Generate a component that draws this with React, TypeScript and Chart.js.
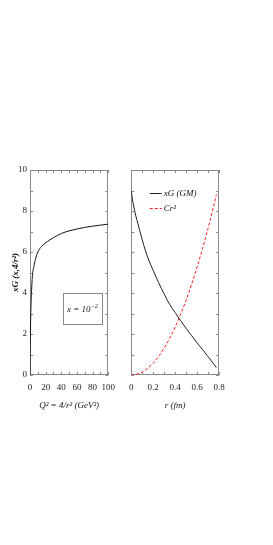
import React, { useEffect, useRef } from "react";
import { Chart, registerables } from "chart.js";
Chart.register(...registerables);

// ---- data ----
const q2Values = [0, 0.1, 0.3, 0.5, 1, 1.5, 2, 3, 5, 7, 10, 15, 20, 25, 30, 40, 50, 60, 70, 80, 90, 100];
const xgQ2Values = [0, 0.7, 1.4, 2.0, 3.0, 3.7, 4.1, 4.8, 5.3, 5.65, 6.0, 6.28, 6.45, 6.58, 6.7, 6.9, 7.03, 7.12, 7.2, 7.26, 7.31, 7.36];

const rGM = [0, 0.01, 0.02, 0.04, 0.06, 0.08, 0.1, 0.13, 0.16, 0.2, 0.25, 0.3, 0.35, 0.4, 0.45, 0.5, 0.55, 0.6, 0.65, 0.7, 0.75, 0.776];
const xgGM = [9.0, 8.6, 8.3, 7.8, 7.4, 7.0, 6.6, 6.05, 5.6, 5.1, 4.5, 3.95, 3.45, 3.05, 2.65, 2.28, 1.92, 1.57, 1.24, 0.9, 0.55, 0.36];

const rC = [0, 0.05, 0.1, 0.15, 0.2, 0.25, 0.3, 0.35, 0.4, 0.45, 0.5, 0.55, 0.6, 0.65, 0.7, 0.75, 0.776];
const cr2Values = [0, 0.04, 0.15, 0.33, 0.58, 0.91, 1.31, 1.79, 2.34, 2.96, 3.65, 4.42, 5.26, 6.17, 7.15, 8.21, 8.8];

const q2TickLabels = [0, 20, 40, 60, 80, 100];
const q2TickMarks = [0, 10, 20, 30, 40, 50, 60, 70, 80, 90, 100];
const rTickLabels = [0, 0.2, 0.4, 0.6, 0.8];
const rTickMarks = [0, 0.1, 0.2, 0.3, 0.4, 0.5, 0.6, 0.7, 0.8];
const yTickLabels = [0, 2, 4, 6, 8, 10];
const yTickMarks = [0, 1, 2, 3, 4, 5, 6, 7, 8, 9, 10];

const SERIF = '"Liberation Serif", "Times New Roman", serif';
const BOX = "#8a8a8a";

const frameTicks = {
  id: "frameTicks",
  beforeDatasetsDraw(chart: any, _a: any, opts: any) {
    const { ctx, chartArea } = chart;
    const { left, right, top, bottom } = chartArea;
    const xs = chart.scales.x;
    const ys = chart.scales.y;
    ctx.save();
    ctx.strokeStyle = BOX;
    ctx.lineWidth = 1;
    ctx.strokeRect(Math.round(left) + 0.5, Math.round(top) + 0.5, Math.round(right - left) - 1, Math.round(bottom - top) - 1);
    ctx.beginPath();
    (opts.xTicks || []).forEach((v: number) => {
      const px = Math.round(xs.getPixelForValue(v)) + 0.5;
      ctx.moveTo(px, bottom);
      ctx.lineTo(px, bottom - 3);
      ctx.moveTo(px, top);
      ctx.lineTo(px, top + 3);
    });
    (opts.yTicks || []).forEach((v: number) => {
      const py = Math.round(ys.getPixelForValue(v)) + 0.5;
      ctx.moveTo(left, py);
      ctx.lineTo(left + 3, py);
      ctx.moveTo(right, py);
      ctx.lineTo(right - 3, py);
    });
    ctx.stroke();
    ctx.restore();
  },
};

const textBox = {
  id: "textBox",
  afterDraw(chart: any, _a: any, opts: any) {
    if (!opts || !opts.text) return;
    const { ctx, chartArea } = chart;
    const x0 = chartArea.left + 33;
    const y0 = chartArea.top + 123;
    ctx.save();
    ctx.strokeStyle = BOX;
    ctx.lineWidth = 1;
    ctx.strokeRect(Math.round(x0) + 0.5, Math.round(y0) + 0.5, 39, 31);
    ctx.fillStyle = "#111";
    ctx.font = `italic 9px ${SERIF}`;
    ctx.textBaseline = "middle";
    ctx.textAlign = "left";
    const tx = x0 + 4;
    const ty = y0 + 17;
    ctx.fillText(opts.text, tx, ty);
    const w = ctx.measureText(opts.text).width;
    ctx.font = `italic 6px ${SERIF}`;
    ctx.fillText(opts.sup, tx + w + 0.5, ty - 4);
    ctx.restore();
  },
};

const lineLegend = {
  id: "lineLegend",
  afterDraw(chart: any, _a: any, opts: any) {
    if (!opts || !opts.show) return;
    const { ctx, chartArea } = chart;
    const x0 = chartArea.left + 18.5;
    const rows = [chartArea.top + 22.5, chartArea.top + 37.5];
    ctx.save();
    chart.data.datasets.forEach((ds: any, i: number) => {
      const y = Math.round(rows[i]) + 0.5;
      ctx.strokeStyle = ds.borderColor;
      ctx.lineWidth = 1;
      ctx.setLineDash(ds.borderDash || []);
      ctx.beginPath();
      ctx.moveTo(x0, y);
      ctx.lineTo(x0 + 12, y);
      ctx.stroke();
      ctx.setLineDash([]);
      ctx.fillStyle = "#111";
      ctx.font = `italic 9px ${SERIF}`;
      ctx.textBaseline = "middle";
      ctx.textAlign = "left";
      ctx.fillText(ds.label, x0 + 14, y);
    });
    ctx.restore();
  },
};

const tickFont = { family: SERIF, size: 9 };

function fixedTicks(values: number[]) {
  return (scale: any) => {
    scale.ticks = values.map((v) => ({ value: v }));
  };
}

export default function App() {
  const leftRef = useRef<HTMLCanvasElement>(null);
  const rightRef = useRef<HTMLCanvasElement>(null);

  useEffect(() => {
    const left = new Chart(leftRef.current as HTMLCanvasElement, {
      type: "scatter",
      data: {
        datasets: [
          {
            label: "xG",
            data: q2Values.map((x, i) => ({ x, y: xgQ2Values[i] })),
            showLine: true,
            borderColor: "#111",
            borderWidth: 1,
            pointRadius: 0,
            cubicInterpolationMode: "monotone",
          } as any,
        ],
      },
      options: {
        animation: false,
        responsive: false,
        layout: { padding: { top: 170, right: 2.5, bottom: 125, left: 0 } },
        plugins: {
          legend: { display: false },
          tooltip: { enabled: false },
          frameTicks: { xTicks: q2TickMarks, yTicks: yTickMarks },
          textBox: { text: "x = 10", sup: "\u22122" },
        } as any,
        scales: {
          x: {
            type: "linear",
            min: 0,
            max: 100,
            afterBuildTicks: fixedTicks(q2TickLabels),
            afterFit: (s: any) => {
              s.height = 45;
            },
            grid: { display: false, drawTicks: false },
            border: { display: false },
            ticks: { font: tickFont, color: "#222", padding: 7, maxRotation: 0, autoSkip: false },
            title: {
              display: true,
              text: "Q\u00B2 = 4/r\u00B2 (GeV\u00B2)",
              color: "#111",
              font: { family: SERIF, size: 9, style: "italic" },
              padding: { top: 0, bottom: 9 },
            },
          },
          y: {
            type: "linear",
            min: 0,
            max: 10,
            afterBuildTicks: fixedTicks(yTickLabels),
            afterFit: (s: any) => {
              s.width = 30;
            },
            grid: { display: false, drawTicks: false },
            border: { display: false },
            ticks: { font: tickFont, color: "#222", padding: 3, autoSkip: false },
            title: {
              display: true,
              text: "xG (x,4/r\u00B2)",
              color: "#111",
              font: { family: SERIF, size: 9, style: "italic", weight: "bold" },
              padding: { top: 10, bottom: 0 },
            },
          },
        },
      },
      plugins: [frameTicks, textBox],
    });

    const right = new Chart(rightRef.current as HTMLCanvasElement, {
      type: "scatter",
      data: {
        datasets: [
          {
            label: "xG (GM)",
            data: rGM.map((x, i) => ({ x, y: xgGM[i] })),
            showLine: true,
            borderColor: "#222",
            borderWidth: 1,
            pointRadius: 0,
            cubicInterpolationMode: "monotone",
          } as any,
          {
            label: "Cr\u00B2",
            data: rC.map((x, i) => ({ x, y: cr2Values[i] })),
            showLine: true,
            borderColor: "#ff2020",
            borderWidth: 1,
            borderDash: [3, 2],
            pointRadius: 0,
            cubicInterpolationMode: "monotone",
          } as any,
        ],
      },
      options: {
        animation: false,
        responsive: false,
        layout: { padding: { top: 170, right: 54, bottom: 125, left: 8.3 } },
        plugins: {
          legend: { display: false },
          tooltip: { enabled: false },
          frameTicks: { xTicks: rTickMarks, yTicks: yTickMarks },
          lineLegend: { show: true },
        } as any,
        scales: {
          x: {
            type: "linear",
            min: 0,
            max: 0.8,
            afterBuildTicks: fixedTicks(rTickLabels),
            afterFit: (s: any) => {
              s.height = 45;
            },
            grid: { display: false, drawTicks: false },
            border: { display: false },
            ticks: {
              font: tickFont,
              color: "#222",
              padding: 7,
              maxRotation: 0,
              autoSkip: false,
              callback: (v: any) => (Number(v) === 0 ? "0" : Number(v).toFixed(1)),
            },
            title: {
              display: true,
              text: "r (fm)",
              color: "#111",
              font: { family: SERIF, size: 9, style: "italic" },
              padding: { top: 0, bottom: 9 },
            },
          },
          y: {
            type: "linear",
            min: 0,
            max: 10,
            afterBuildTicks: fixedTicks(yTickLabels),
            afterFit: (s: any) => {
              s.width = 0;
            },
            grid: { display: false, drawTicks: false },
            border: { display: false },
            ticks: { display: false },
          },
        },
      },
      plugins: [frameTicks, lineLegend],
    });

    return () => {
      left.destroy();
      right.destroy();
    };
  }, []);

  return (
    <div style={{ position: "absolute", left: 0, top: 0, width: 273, height: 545, background: "#fff" }}>
      <canvas
        ref={leftRef}
        width={122}
        height={545}
        style={{ position: "absolute", left: 0, top: 0, width: 122, height: 545 }}
      />
      <canvas
        ref={rightRef}
        width={151}
        height={545}
        style={{ position: "absolute", left: 122, top: 0, width: 151, height: 545 }}
      />
    </div>
  );
}
